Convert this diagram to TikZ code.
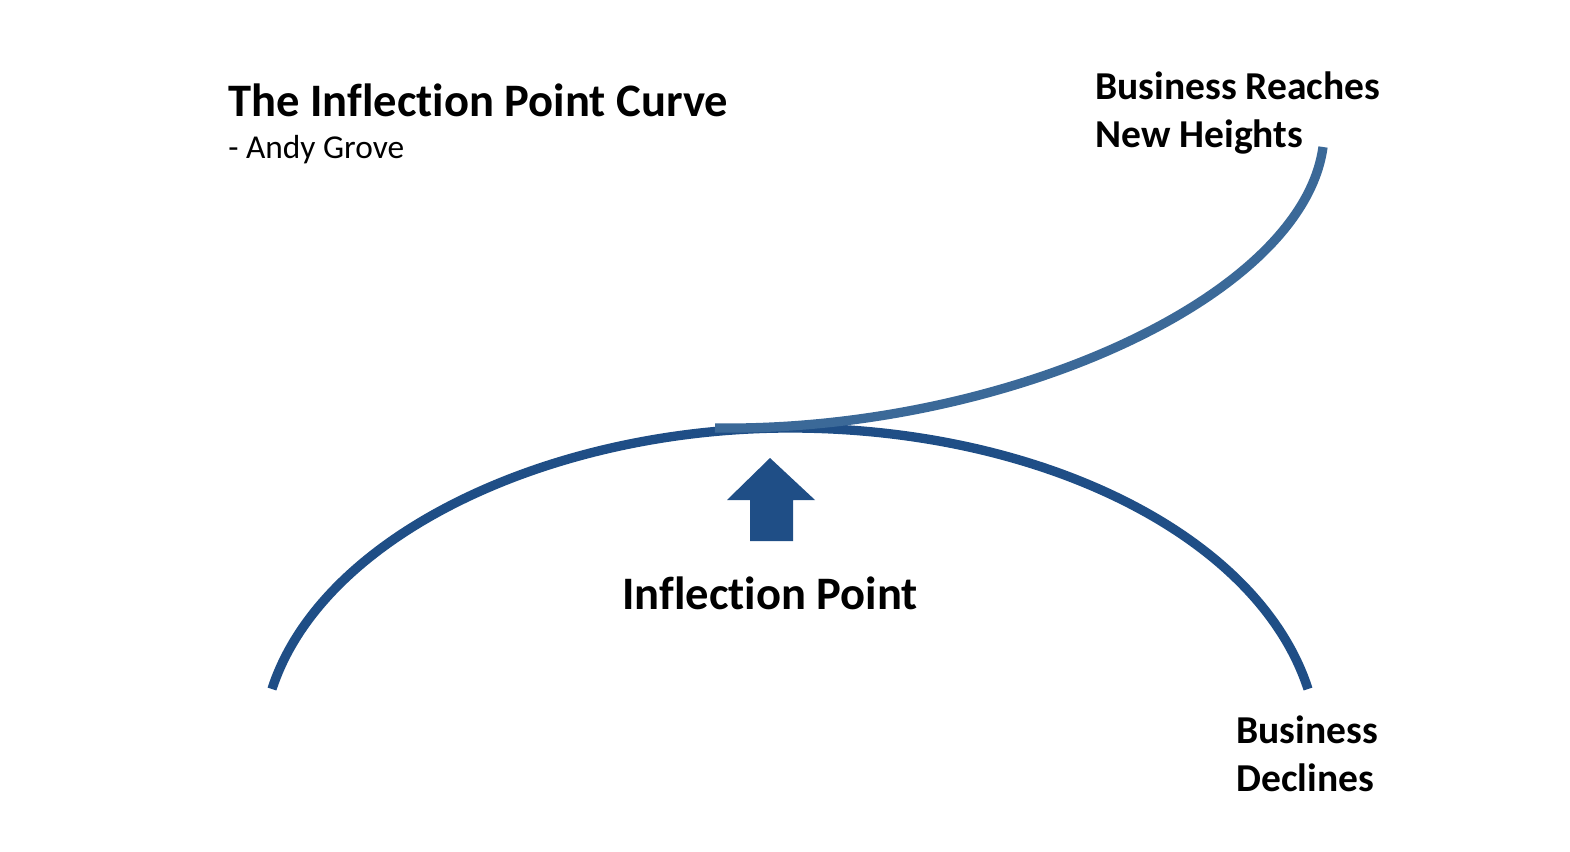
\documentclass[tikz,border=0pt]{standalone}
\usepackage{fontspec}
\setmainfont[Ligatures=NoCommon]{Carlito}
\usepackage{tikz}
\usetikzlibrary{positioning}
\definecolor{curvecol}{HTML}{1F4E86}
\definecolor{upcol}{HTML}{3B6998}

\begin{document}
\begin{tikzpicture}[
  x=0.02cm,y=-0.02cm,
  lbl/.style={inner sep=0pt,align=left,font=\bfseries\fontsize{22.5pt}{27.3pt}\selectfont},
  big/.style={inner sep=0pt,font=\bfseries\fontsize{26.5pt}{30pt}\selectfont},
  arc/.style={line width=5.3pt,draw=curvecol},
]
\useasboundingbox (0,0) rectangle (1570,852);

% titles
\node[big,anchor=base west] (title) at (228,116) {The Inflection Point Curve};
\node[inner sep=0pt,anchor=base west,font=\fontsize{19pt}{22pt}\selectfont] (author) at (228,158) {- Andy Grove};

% the two curves
\draw[arc] (272,689) .. controls (322,535) and (550,428) .. (790,428)
           .. controls (1040,428) and (1258,535) .. (1308,689);
\draw[arc,draw=upcol] (715,428) .. controls (1000,432) and (1302,300) .. (1323,147);

% arrow and its label
\fill[curvecol] (770,458) -- (815,500) -- (793,500) -- (793,541) -- (750,541)
                -- (750,500) -- (727,500) -- cycle;
\node[big,anchor=base] (ip) at (770,609) {Inflection Point};

% outcomes
\node[lbl,anchor=base west] (up) at (1095,147) {Business Reaches\\New Heights};
\node[lbl,anchor=base west] (down) at (1236,791) {Business\\Declines};
\end{tikzpicture}
\end{document}
